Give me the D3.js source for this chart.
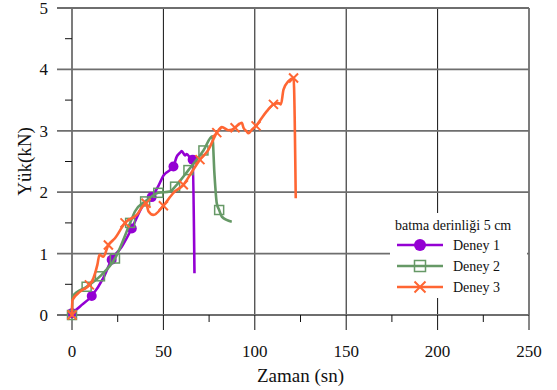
<!DOCTYPE html>
<html><head><meta charset="utf-8">
<script src="https://cdn.jsdelivr.net/npm/d3@7"></script>
<style>body{margin:0;background:#fff}svg{display:block}</style>
</head><body><svg id="c" width="557" height="390" font-family="Liberation Serif"></svg>
<script>
const xTicks = [0, 50, 100, 150, 200, 250];
const yTicks = [0, 1, 2, 3, 4, 5];
const legendTitle = "batma derinliği 5 cm";
const seriesNames = ["Deney 1", "Deney 2", "Deney 3"];
const seriesColors = ["#9400D3", "#669966", "#FF6633"];

const d1T = [0, 4.4, 10.8, 17.1, 21.7, 27.2, 32.7, 39, 43.6, 47.2, 50, 55.5, 57.3, 59, 60, 61.8, 62.8, 64.6, 66, 67];
const d1V = [0.03, 0.14, 0.31, 0.6, 0.9, 1.11, 1.41, 1.79, 1.92, 2.1, 2.27, 2.42, 2.58, 2.64, 2.67, 2.6, 2.62, 2.56, 2.53, 0.68];
const d1M = [0, 10.8, 21.7, 32.7, 43.6, 55.5, 66];

const d2T = [0, 0.3, 8, 15.3, 23.5, 31.8, 34.5, 40, 43.6, 47.2, 53.6, 56.4, 63.7, 71.9, 76.8, 77.9, 79.2, 80.5, 82, 87.4];
const d2V = [0, 0.3, 0.46, 0.63, 0.92, 1.5, 1.69, 1.85, 1.93, 1.99, 2.01, 2.09, 2.36, 2.68, 2.91, 2.31, 1.82, 1.71, 1.6, 1.52];
const d2M = [0, 8, 15.3, 23.5, 31.8, 40, 47.2, 56.4, 63.7, 71.9, 80.5];

const d3T = [0, 0.2, 4.4, 9.5, 11.7, 13.9, 15, 17.1, 19.9, 23.5, 29, 35.4, 40.5, 41.8, 44.5, 50, 55.5, 60.9, 66.4, 70, 74.6, 79.2, 82, 85.6, 89.2, 91, 92.9, 93.8, 95.6, 96.5, 98.4, 100.7, 103.8, 106.6, 110.2, 113, 114.3, 115.7, 118.4, 121.2, 122.4];
const d3V = [0, 0.24, 0.38, 0.49, 0.6, 0.82, 0.98, 0.95, 1.14, 1.25, 1.5, 1.63, 1.82, 1.69, 1.63, 1.78, 1.99, 2.12, 2.37, 2.53, 2.69, 2.97, 3.06, 3.01, 3.05, 3.1, 3.13, 3.05, 2.99, 2.96, 3.02, 3.08, 3.21, 3.32, 3.43, 3.45, 3.43, 3.67, 3.81, 3.86, 1.9];
const d3M = [0, 9.5, 19.9, 29, 40.5, 50, 60.9, 70, 79.2, 89.2, 100.7, 110.2, 121.2];

const svg = d3.select("#c");
const L = 72, R = 529, T = 8, B = 315;
const x = d3.scaleLinear().domain([0, 250]).range([L, R]);
const y = d3.scaleLinear().domain([0, 5]).range([B, T]);

function txt(sel) { return sel.attr("font-family", "Liberation Serif").attr("fill", "#111"); }

// vertical grid
svg.append("g").selectAll("line").data(xTicks.filter(d => d > 0 && d < 250)).join("line")
  .attr("x1", d => x(d)).attr("x2", d => x(d)).attr("y1", T).attr("y2", B)
  .attr("stroke", "#111").attr("stroke-width", 1);
// horizontal grid
svg.append("g").selectAll("line").data(yTicks).join("line")
  .attr("x1", L - 15).attr("x2", R).attr("y1", d => y(d)).attr("y2", d => y(d))
  .attr("stroke", "#6e6e6e").attr("stroke-width", 1.8);
// y axis & right edge
svg.append("line").attr("x1", L).attr("x2", L).attr("y1", T).attr("y2", B).attr("stroke", "#6e6e6e").attr("stroke-width", 1.8);
svg.append("line").attr("x1", R).attr("x2", R).attr("y1", T).attr("y2", B).attr("stroke", "#6e6e6e").attr("stroke-width", 1.8);
// minor y ticks
svg.append("g").selectAll("line").data(d3.range(0.5, 5, 1)).join("line")
  .attr("x1", L - 7).attr("x2", L).attr("y1", d => y(d)).attr("y2", d => y(d))
  .attr("stroke", "#111").attr("stroke-width", 1);
// x ticks
svg.append("g").selectAll("line").data(xTicks).join("line")
  .attr("x1", d => x(d)).attr("x2", d => x(d)).attr("y1", B).attr("y2", B + 15)
  .attr("stroke", "#111").attr("stroke-width", 1);
svg.append("g").selectAll("line").data(d3.range(25, 250, 50)).join("line")
  .attr("x1", d => x(d)).attr("x2", d => x(d)).attr("y1", B).attr("y2", B + 7)
  .attr("stroke", "#111").attr("stroke-width", 1);

// tick labels
txt(svg.append("g").selectAll("text").data(yTicks).join("text")
  .attr("x", 48).attr("y", d => y(d) + 6).attr("text-anchor", "end")
  .attr("font-size", 17).text(d => d));
txt(svg.append("g").selectAll("text").data(xTicks).join("text")
  .attr("x", d => x(d)).attr("y", B + 42).attr("text-anchor", "middle")
  .attr("font-size", 17).text(d => d));
txt(svg.append("text").attr("x", x(125)).attr("y", 382).attr("text-anchor", "middle")
  .attr("font-size", 19).text("Zaman (sn)"));
txt(svg.append("text").attr("transform", "translate(31," + y(2.5) + ") rotate(-90)")
  .attr("text-anchor", "middle").attr("font-size", 19).text("Yük(kN)"));

const series = [
  {T: d1T, V: d1V, M: d1M},
  {T: d2T, V: d2V, M: d2M},
  {T: d3T, V: d3V, M: d3M}
];
const line = d3.line().x(d => x(d[0])).y(d => y(d[1])).curve(d3.curveMonotoneX);

function marker(g, type, cx, cy, color, s) {
  if (type === 0) g.append("circle").attr("cx", cx).attr("cy", cy).attr("r", s * 0.5).attr("fill", color);
  else if (type === 1) g.append("rect").attr("x", cx - s / 2).attr("y", cy - s / 2).attr("width", s).attr("height", s)
    .attr("fill", "none").attr("stroke", color).attr("stroke-width", 1.5);
  else g.append("path").attr("d", `M${cx - s / 2},${cy - s / 2}L${cx + s / 2},${cy + s / 2}M${cx - s / 2},${cy + s / 2}L${cx + s / 2},${cy - s / 2}`)
    .attr("stroke", color).attr("stroke-width", 2).attr("fill", "none");
}

series.forEach((s, i) => {
  const pts = s.T.map((t, k) => [t, s.V[k]]);
  const g = svg.append("g");
  g.append("path").attr("d", line(pts)).attr("fill", "none").attr("stroke", seriesColors[i]).attr("stroke-width", 2.6)
    .attr("stroke-linejoin", "round");
  s.M.forEach(t => {
    const k = s.T.indexOf(t);
    marker(g, i, x(t), y(s.V[k]), seriesColors[i], i === 0 ? 10 : 9);
  });
});

// legend
const lg = svg.append("g");
lg.append("rect").attr("x", 390).attr("y", 213).attr("width", 137).attr("height", 85).attr("fill", "#fff");
txt(lg.append("text").attr("x", 395).attr("y", 230).attr("font-size", 14).text(legendTitle));
seriesNames.forEach((n, i) => {
  const yy = 245 + i * 21;
  lg.append("line").attr("x1", 397).attr("x2", 443).attr("y1", yy).attr("y2", yy)
    .attr("stroke", seriesColors[i]).attr("stroke-width", 2.6);
  marker(lg, i, 420, yy, seriesColors[i], i === 0 ? 12 : 11);
  txt(lg.append("text").attr("x", 453).attr("y", yy + 5).attr("font-size", 14).text(n));
});
</script></body></html>
